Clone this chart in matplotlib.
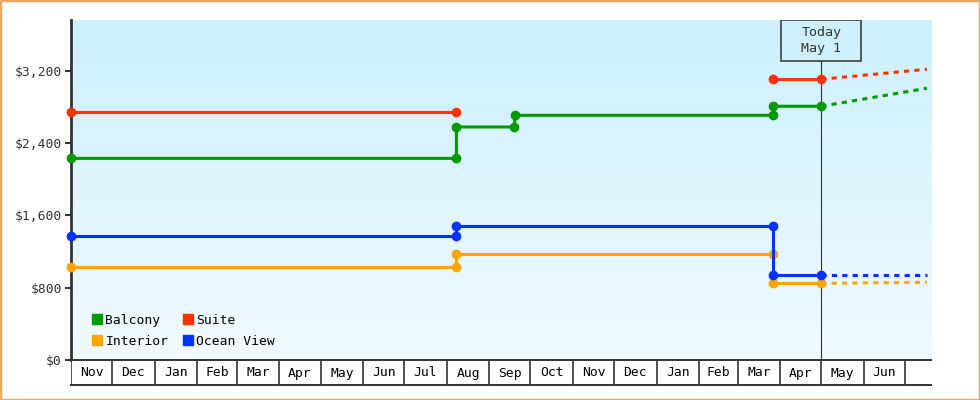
import numpy as np
import pandas as pd
import matplotlib
matplotlib.use("Agg")
import matplotlib.pyplot as plt
import matplotlib.dates as mdates
from matplotlib.patches import Patch, Rectangle
from matplotlib.colors import LinearSegmentedColormap

plt.rcParams["font.family"] = ["DejaVu Sans Mono", "DejaVu Sans"]

# price history per cabin type (each change = two points)
balcony_dates = ["2011-11-01", "2012-08-08", "2012-08-08", "2012-09-19", "2012-09-20",
                 "2013-03-27", "2013-03-27", "2013-05-01"]
balcony_prices = [2230, 2230, 2577, 2577, 2706, 2706, 2806, 2806]

suite_dates = ["2011-11-01", "2012-08-08", "2012-08-08", "2013-03-27", "2013-05-01"]
suite_prices = [2740, 2740, np.nan, 3105, 3105]

interior_dates = ["2011-11-01", "2012-08-08", "2012-08-08", "2013-03-27", "2013-03-27", "2013-05-01"]
interior_prices = [1025, 1025, 1169, 1169, 848, 848]

ocean_dates = ["2011-11-01", "2012-08-08", "2012-08-08", "2013-03-27", "2013-03-27", "2013-05-01"]
ocean_prices = [1375, 1375, 1478, 1478, 937, 937]

# forecast from today to the end of the range
today = "2013-05-01"
forecast_end = "2013-07-17"
balcony_forecast = [2806, 3005]
suite_forecast = [3105, 3215]
interior_forecast = [848, 860]
ocean_forecast = [937, 937]

yticks = [0, 800, 1600, 2400, 3200]
x_start, x_end = "2011-11-01", "2013-07-20"

colors = {"Balcony": "#009900", "Suite": "#ff3300", "Interior": "#ffa500", "Ocean View": "#0033ff"}
series = [
    ("Balcony", balcony_dates, balcony_prices, balcony_forecast),
    ("Suite", suite_dates, suite_prices, suite_forecast),
    ("Interior", interior_dates, interior_prices, interior_forecast),
    ("Ocean View", ocean_dates, ocean_prices, ocean_forecast),
]

fig = plt.figure(figsize=(9.8, 4), dpi=100)
ax = fig.add_axes([71 / 980, 40 / 400, 860 / 980, 340 / 400])
mx = fig.add_axes([71 / 980, 15 / 400, 860 / 980, 25 / 400], sharex=ax)

# background gradient
cmap = LinearSegmentedColormap.from_list("bg", ["#f2faff", "#ccf0fc"])
ax.imshow(np.linspace(0, 1, 256)[:, None], extent=[0, 1, 0, 1], transform=ax.transAxes,
          aspect="auto", cmap=cmap, origin="lower", zorder=0)

for name, d, p, fc in series:
    c = colors[name]
    ax.plot(pd.to_datetime(d), p, color=c, lw=2.2, marker="o", ms=6, zorder=3, clip_on=False)
    ax.plot(pd.to_datetime([today, forecast_end]), fc, color=c, lw=2.2,
            dashes=(1.7, 1.7), zorder=3)

ax.set_xlim(pd.Timestamp(x_start), pd.Timestamp(x_end))
ax.set_ylim(0, 3760)
ax.set_yticks(yticks)
ax.set_yticklabels([f"${v:,}" for v in yticks])
ax.tick_params(axis="y", length=4.3, width=1.5, pad=2.2, labelsize=9.4, colors="#333333")
ax.tick_params(axis="x", bottom=False, labelbottom=False)
for s in ["top", "right", "bottom"]:
    ax.spines[s].set_visible(False)
ax.spines["left"].set_linewidth(2)
ax.spines["left"].set_color("#333333")

# today marker
t = pd.Timestamp(today)
ax.axvline(t, ymin=0, ymax=0.88, color="#333333", lw=0.8, zorder=2)
box = Rectangle((mdates.date2num(t) - 29, 0.88), 58, 0.12,
                transform=ax.get_xaxis_transform(), fill=False, ec="#333333", lw=1.1, zorder=4)
ax.add_patch(box)
ax.text(t, 0.94, "Today\nMay 1", transform=ax.get_xaxis_transform(), ha="center", va="center",
        fontsize=9.6, color="#333333", linespacing=1.25, zorder=5)

# legend
handles = [Patch(color=colors[n]) for n in ["Balcony", "Interior", "Suite", "Ocean View"]]
ax.legend(handles, ["Balcony", "Interior", "Suite", "Ocean View"], ncol=2, loc="lower left",
          bbox_to_anchor=(0.024, 0.036), frameon=False, fontsize=9.4, handlelength=0.8,
          handleheight=0.8, handletextpad=0.25, columnspacing=1.1, labelspacing=0.6,
          borderpad=0, borderaxespad=0)

# month strip
months = pd.date_range("2011-11-01", "2013-07-01", freq="MS")
mx.set_ylim(0, 1)
mx.set_facecolor("white")
for m in months:
    mx.axvline(m, color="#333333", lw=1.2)
for a, b in zip(months[:-1], months[1:]):
    mx.text(a + (b - a) / 2, 0.48, a.strftime("%b"), ha="center", va="center", fontsize=9.4, color="black")
mx.tick_params(left=False, bottom=False, labelleft=False, labelbottom=False)
for s in ["left", "right"]:
    mx.spines[s].set_visible(False)
for s in ["top", "bottom"]:
    mx.spines[s].set_linewidth(1.4)
    mx.spines[s].set_color("#333333")

fig.patches.append(Rectangle((0, 0), 1, 1, transform=fig.transFigure, fill=False,
                             ec="#e8aa66", lw=2.5))

fig.savefig("out.png", dpi=100)
